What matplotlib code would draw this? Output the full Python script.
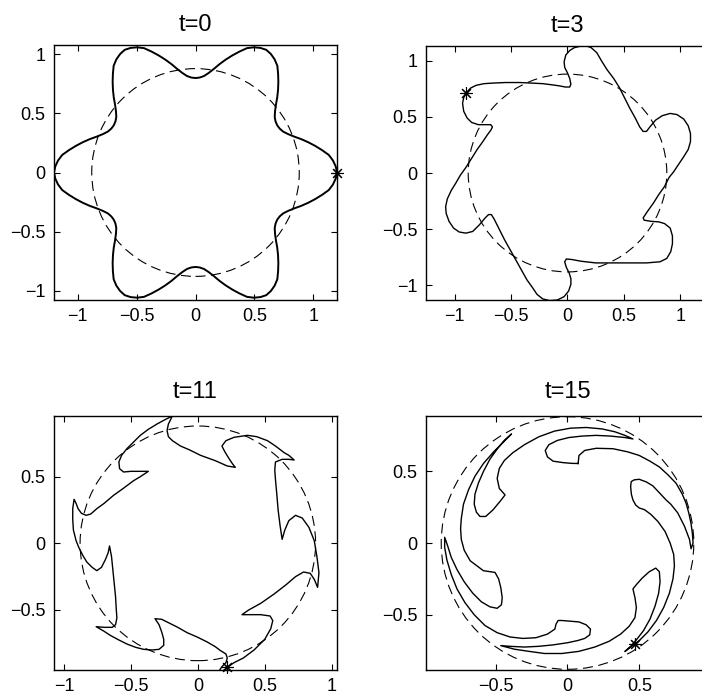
import matplotlib
matplotlib.use("Agg")
import matplotlib.pyplot as plt
from matplotlib.patches import Circle
import numpy as np

plt.rcParams["font.family"] = ["Liberation Sans", "DejaVu Sans"]

# ---------------- data ----------------
titles = ["t=0", "t=3", "t=11", "t=15"]
circle_radius = [0.88, 0.88, 0.88, 0.88]

# t=0: radius of the boundary, read every 2.5 degrees (one row per 60 degrees)
theta0_deg = np.arange(0, 360.1, 2.5)
r0 = [1.20, 1.19, 1.17, 1.14, 1.09, 1.04, 0.99, 0.94, 0.89, 0.85, 0.82, 0.805,
      0.80, 0.805, 0.82, 0.85, 0.89, 0.94, 0.99, 1.04, 1.09, 1.14, 1.17, 1.19,
      1.20, 1.19, 1.17, 1.14, 1.09, 1.04, 0.99, 0.94, 0.89, 0.85, 0.82, 0.805,
      0.80, 0.805, 0.82, 0.85, 0.89, 0.94, 0.99, 1.04, 1.09, 1.14, 1.17, 1.19,
      1.20, 1.19, 1.17, 1.14, 1.09, 1.04, 0.99, 0.94, 0.89, 0.85, 0.82, 0.805,
      0.80, 0.805, 0.82, 0.85, 0.89, 0.94, 0.99, 1.04, 1.09, 1.14, 1.17, 1.19,
      1.20, 1.19, 1.17, 1.14, 1.09, 1.04, 0.99, 0.94, 0.89, 0.85, 0.82, 0.805,
      0.80, 0.805, 0.82, 0.85, 0.89, 0.94, 0.99, 1.04, 1.09, 1.14, 1.17, 1.19,
      1.20, 1.19, 1.17, 1.14, 1.09, 1.04, 0.99, 0.94, 0.89, 0.85, 0.82, 0.805,
      0.80, 0.805, 0.82, 0.85, 0.89, 0.94, 0.99, 1.04, 1.09, 1.14, 1.17, 1.19,
      1.20, 1.19, 1.17, 1.14, 1.09, 1.04, 0.99, 0.94, 0.89, 0.85, 0.82, 0.805,
      0.80, 0.805, 0.82, 0.85, 0.89, 0.94, 0.99, 1.04, 1.09, 1.14, 1.17, 1.19,
      1.20]

# t=3
x3 = [-0.90, -0.86, -0.81, -0.74, -0.66, -0.55, -0.42, -0.32, -0.22, -0.14, -0.07, -0.02, 0.02, 0.03, 0.02,
      0.00, -0.025, -0.03, -0.015, 0.02, 0.06, 0.12, 0.17, 0.21, 0.26, 0.30, 0.35, 0.41, 0.46, 0.51, 0.55,
      0.60, 0.64, 0.67, 0.70, 0.73, 0.78, 0.84, 0.91, 0.97, 1.03, 1.07, 1.09, 1.09, 1.07, 1.03, 0.98, 0.94,
      0.90, 0.86, 0.81, 0.76, 0.71, 0.67, 0.68, 0.74, 0.81, 0.86, 0.91, 0.93, 0.93, 0.915, 0.88, 0.82, 0.70,
      0.55, 0.40, 0.25, 0.12, 0.04, -0.01, -0.025, -0.01, 0.015, 0.03, 0.03, 0.01, -0.03, -0.09, -0.16,
      -0.22, -0.27, -0.31, -0.36, -0.41, -0.46, -0.51, -0.56, -0.61, -0.65, -0.675, -0.70, -0.73, -0.78,
      -0.84, -0.90, -0.96, -1.01, -1.05, -1.075, -1.08, -1.065, -1.03, -0.99, -0.95, -0.90, -0.85, -0.80,
      -0.75, -0.71, -0.68, -0.665, -0.68, -0.73, -0.79, -0.85, -0.89, -0.92, -0.93, -0.92, -0.90]
y3 = [0.71, 0.755, 0.78, 0.795, 0.80, 0.805, 0.805, 0.80, 0.795, 0.785, 0.775, 0.765, 0.765, 0.79, 0.84,
      0.89, 0.94, 0.99, 1.05, 1.09, 1.115, 1.13, 1.13, 1.115, 1.07, 1.00, 0.92, 0.84, 0.76, 0.66, 0.58,
      0.49, 0.41, 0.37, 0.37, 0.41, 0.47, 0.51, 0.53, 0.52, 0.48, 0.42, 0.35, 0.28, 0.21, 0.145, 0.07, 0.01,
      -0.04, -0.12, -0.19, -0.27, -0.34, -0.40, -0.42, -0.43, -0.435, -0.45, -0.49, -0.56, -0.63, -0.70,
      -0.76, -0.79, -0.80, -0.80, -0.80, -0.80, -0.785, -0.77, -0.765, -0.79, -0.84, -0.89, -0.94, -0.99,
      -1.05, -1.10, -1.13, -1.135, -1.12, -1.08, -1.02, -0.95, -0.86, -0.77, -0.68, -0.59, -0.49, -0.41,
      -0.37, -0.37, -0.40, -0.46, -0.52, -0.535, -0.525, -0.49, -0.43, -0.36, -0.30, -0.23, -0.155, -0.09,
      -0.02, 0.05, 0.13, 0.21, 0.28, 0.34, 0.38, 0.41, 0.43, 0.43, 0.43, 0.45, 0.49, 0.55, 0.62, 0.67, 0.71]

# t=11
x11 = [0.22, 0.27, 0.34, 0.42, 0.50, 0.545, 0.56, 0.54, 0.47, 0.40, 0.33,
       0.38, 0.47, 0.57, 0.66, 0.73, 0.79, 0.84, 0.87, 0.895,
       0.905, 0.89, 0.87, 0.83, 0.78, 0.73, 0.68, 0.65, 0.63,
       0.615, 0.60, 0.59, 0.58, 0.575, 0.58, 0.63, 0.68, 0.72,
       0.68, 0.645, 0.58, 0.52, 0.44, 0.37, 0.27, 0.21, 0.18, 0.20, 0.23, 0.26, 0.28,
       0.22, 0.13, 0.02, -0.06, -0.13, -0.19, -0.22, -0.23, -0.22, -0.19,
       -0.25, -0.305, -0.37, -0.43, -0.48, -0.53, -0.57, -0.59, -0.585, -0.555, -0.50, -0.44, -0.37,
       -0.43, -0.48, -0.56, -0.63, -0.70, -0.755, -0.80, -0.835, -0.87, -0.895, -0.91, -0.925,
       -0.935, -0.935, -0.93, -0.91, -0.89, -0.86, -0.83, -0.79, -0.755, -0.72, -0.69, -0.67, -0.66,
       -0.645, -0.635, -0.625, -0.615, -0.61, -0.605, -0.615, -0.64, -0.70, -0.76,
       -0.70, -0.655, -0.59, -0.53, -0.465, -0.405, -0.34, -0.29, -0.255, -0.255, -0.27, -0.29, -0.32,
       -0.27, -0.23, -0.15, -0.08, 0.00, 0.07, 0.13, 0.17, 0.21, 0.22, 0.21, 0.18, 0.16, 0.19, 0.22]
y11 = [-0.93, -0.895, -0.86, -0.80, -0.72, -0.64, -0.58, -0.545, -0.535, -0.535, -0.535,
       -0.50, -0.45, -0.38, -0.31, -0.25, -0.215, -0.225, -0.27, -0.33,
       -0.22, -0.10, 0.02, 0.12, 0.19, 0.21, 0.17, 0.10, 0.03,
       0.13, 0.25, 0.37, 0.48, 0.55, 0.61, 0.63, 0.63, 0.625,
       0.66, 0.68, 0.73, 0.77, 0.80, 0.81, 0.795, 0.77, 0.73, 0.69, 0.64, 0.595, 0.57,
       0.58, 0.62, 0.66, 0.70, 0.73, 0.77, 0.80, 0.845, 0.895, 0.955,
       0.925, 0.895, 0.855, 0.81, 0.76, 0.71, 0.66, 0.61, 0.56, 0.535, 0.54, 0.54, 0.54,
       0.50, 0.47, 0.41, 0.36, 0.30, 0.26, 0.22, 0.21, 0.225, 0.26, 0.30, 0.33,
       0.26, 0.18, 0.10, 0.02, -0.03, -0.09, -0.14, -0.18, -0.205, -0.18, -0.12, -0.07, -0.02,
       -0.10, -0.20, -0.30, -0.40, -0.49, -0.56, -0.61, -0.63, -0.63, -0.625,
       -0.66, -0.69, -0.725, -0.755, -0.78, -0.795, -0.80, -0.795, -0.765, -0.72, -0.665, -0.61, -0.565,
       -0.57, -0.59, -0.63, -0.67, -0.705, -0.74, -0.775, -0.805, -0.83, -0.86, -0.895, -0.925, -0.955, -0.955, -0.93]

# t=15 (one closed boundary: hook -> spiral arm -> filament tip -> back into next hook)
x15 = [0.074, 0.08, 0.12, 0.20, 0.317, 0.42, 0.50, 0.575, 0.64, 0.70, 0.757, 0.80, 0.826, 0.845, 0.86, 0.87, 0.875, 0.861,
       0.85, 0.815, 0.768, 0.72, 0.687, 0.64, 0.595, 0.55, 0.50, 0.465, 0.444, 0.44, 0.445, 0.456, 0.475, 0.50, 0.537,
       0.58, 0.63, 0.68, 0.715, 0.74, 0.745, 0.735, 0.71, 0.67, 0.62, 0.56, 0.50, 0.44, 0.40,
       0.44, 0.48, 0.53, 0.575, 0.61, 0.635, 0.645, 0.64, 0.615, 0.57, 0.52, 0.48, 0.456,
       0.47, 0.48, 0.47, 0.43, 0.37, 0.29, 0.19, 0.08, -0.04, -0.16, -0.27, -0.37, -0.465,
       -0.40, -0.30, -0.20, -0.10, 0.00, 0.07, 0.12, 0.155, 0.16, 0.13, 0.08, 0.016, -0.04, -0.065, -0.08, -0.088,
       -0.14, -0.22, -0.31, -0.40, -0.49, -0.575, -0.65, -0.715, -0.77, -0.81, -0.84, -0.856, -0.856,
       -0.835, -0.81, -0.77, -0.72, -0.66, -0.60, -0.54, -0.49, -0.46, -0.455, -0.465, -0.48, -0.505,
       -0.586, -0.678, -0.72, -0.74, -0.745, -0.74, -0.725, -0.69, -0.645, -0.585, -0.51, -0.45, -0.39,
       -0.44, -0.49, -0.54, -0.585, -0.62, -0.645, -0.65, -0.635, -0.61, -0.57, -0.52, -0.47, -0.435,
       -0.475, -0.49, -0.475, -0.44, -0.38, -0.30, -0.20, -0.09, 0.02, 0.13, 0.24, 0.33, 0.40, 0.456,
       0.40, 0.30, 0.20, 0.10, 0.01, -0.07, -0.13, -0.155, -0.14, -0.10, -0.03, 0.03, 0.074]
y15 = [0.554, 0.61, 0.645, 0.66, 0.657, 0.635, 0.61, 0.57, 0.53, 0.475, 0.416, 0.34, 0.278, 0.21, 0.14, 0.07, 0.0, -0.04,
       0.025, 0.117, 0.21, 0.27, 0.30, 0.35, 0.398, 0.425, 0.444, 0.44, 0.428, 0.393, 0.34, 0.30, 0.265, 0.244, 0.232,
       0.20, 0.15, 0.08, 0.0, -0.08, -0.16, -0.25, -0.35, -0.45, -0.54, -0.62, -0.68, -0.725, -0.756,
       -0.72, -0.675, -0.61, -0.53, -0.44, -0.35, -0.27, -0.20, -0.175, -0.20, -0.245, -0.29, -0.32,
       -0.38, -0.45, -0.52, -0.58, -0.635, -0.685, -0.725, -0.755, -0.77, -0.77, -0.755, -0.74, -0.715,
       -0.72, -0.725, -0.72, -0.71, -0.695, -0.68, -0.665, -0.64, -0.60, -0.57, -0.55, -0.545, -0.54, -0.54, -0.565, -0.60,
       -0.635, -0.66, -0.665, -0.655, -0.625, -0.575, -0.50, -0.415, -0.32, -0.22, -0.12, -0.03, 0.04,
       -0.02, -0.10, -0.185, -0.27, -0.35, -0.41, -0.445, -0.455, -0.43, -0.38, -0.31, -0.25, -0.205,
       -0.193, -0.124, -0.05, 0.025, 0.10, 0.17, 0.27, 0.37, 0.465, 0.555, 0.64, 0.70, 0.76,
       0.715, 0.655, 0.585, 0.50, 0.42, 0.34, 0.27, 0.215, 0.185, 0.185, 0.23, 0.29, 0.335,
       0.38, 0.45, 0.52, 0.575, 0.63, 0.685, 0.74, 0.78, 0.80, 0.805, 0.795, 0.775, 0.75, 0.725,
       0.735, 0.745, 0.75, 0.745, 0.735, 0.715, 0.685, 0.645, 0.60, 0.57, 0.56, 0.555, 0.554]

theta0 = np.deg2rad(theta0_deg)
x0 = np.array(r0) * np.cos(theta0)
y0 = np.array(r0) * np.sin(theta0)

curves_x = [x0, x3, x11, x15]
curves_y = [y0, y3, y11, y15]
star_x = [1.20, -0.90, 0.22, 0.468]
star_y = [0.00, 0.71, -0.93, -0.706]
line_widths = [1.4, 1.0, 1.0, 1.0]

xlims = [(-1.2, 1.2), (-1.254, 1.254), (-1.075, 1.04), (-0.986, 0.986)]
ylims = [(-1.08, 1.08), (-1.13, 1.13), (-0.95, 0.955), (-0.885, 0.885)]
xticks = [[-1, -0.5, 0, 0.5, 1], [-1, -0.5, 0, 0.5, 1], [-1, -0.5, 0, 0.5, 1], [-0.5, 0, 0.5]]
yticks = [[-1, -0.5, 0, 0.5, 1], [-1, -0.5, 0, 0.5, 1], [-0.5, 0, 0.5], [-0.5, 0, 0.5]]

# axes boxes in pixels (left, top, right, bottom) of the 702x696 picture
boxes = [(54, 45, 337, 300), (426, 46, 709, 300), (54, 416, 337, 670), (426, 416, 709, 670)]
title_pads = [10, 10, 13, 13]


def tick_label(v):
    s = str(int(v)) if v == int(v) else str(v)
    return s.replace("-", "\u2212")


fig = plt.figure(figsize=(7.02, 6.96), dpi=100)
W, H = 702, 696

for i in range(4):
    l, t, r, b = boxes[i]
    ax = fig.add_axes([l / W, (H - b) / H, (r - l) / W, (b - t) / H])

    ax.add_patch(Circle((0, 0), circle_radius[i], fill=False, color="black",
                        linewidth=0.8, linestyle=(0, (9, 5))))
    ax.plot(curves_x[i], curves_y[i], color="black", linewidth=line_widths[i])
    ax.plot(star_x[i], star_y[i], marker=(8, 2, 0), markersize=9, color="black",
            markeredgewidth=0.8, clip_on=False)

    ax.set_xlim(xlims[i])
    ax.set_ylim(ylims[i])
    ax.set_xticks(xticks[i], [tick_label(v) for v in xticks[i]])
    ax.set_yticks(yticks[i], [tick_label(v) for v in yticks[i]])
    ax.tick_params(direction="in", top=True, right=True, length=4, width=0.8,
                   labelsize=13, pad=6)
    for sp in ax.spines.values():
        sp.set_linewidth(1.0)
    ax.set_title(titles[i], fontsize=17, pad=title_pads[i])

plt.savefig("out.png", dpi=100)
